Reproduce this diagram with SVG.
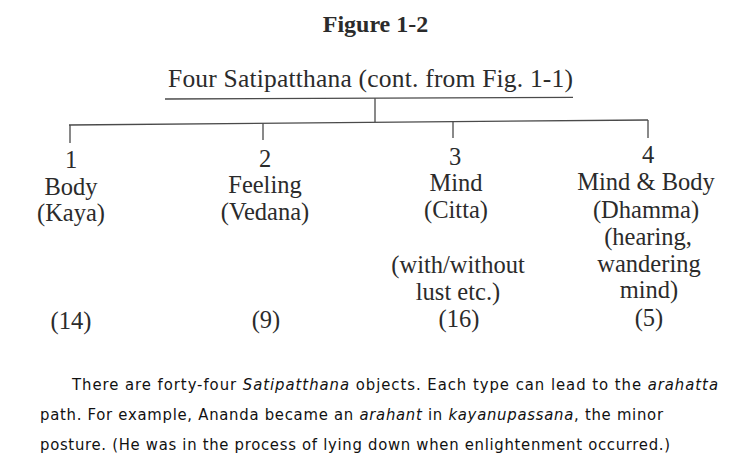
<svg xmlns="http://www.w3.org/2000/svg" width="734" height="473" viewBox="0 0 734 473">
<style>
.bg{fill:#ffffff}
.serif{font-family:"Liberation Serif","Times New Roman",serif;fill:#2b2b2b}
.title{font-size:24px;font-weight:bold;text-anchor:middle}
.head{font-size:25.5px}
.lbl{font-size:24.5px;text-anchor:middle}
.conn line{stroke:#4a4a4a;stroke-width:1.3;fill:none}
.para{font-family:"DejaVu Sans Condensed","DejaVu Sans",Tahoma,sans-serif;font-size:16.5px;fill:#111}
.it{font-style:italic}
</style>
<rect class="bg" x="0" y="0" width="734" height="473"/>
<g id="title">
<text class="serif title" x="375.5" y="32">Figure 1-2</text>
</g>
<g id="root">
<text class="serif head" x="168" y="87" textLength="405" lengthAdjust="spacing">Four Satipatthana (cont. from Fig. 1-1)</text>
</g>
<g id="connectors" class="conn">
<line x1="165" y1="99" x2="573" y2="97.3"/>
<line x1="375" y1="98.2" x2="375" y2="122"/>
<line x1="69" y1="125" x2="648" y2="120"/>
<line x1="70" y1="125" x2="70" y2="143"/>
<line x1="263" y1="123.3" x2="263" y2="140"/>
<line x1="453" y1="121.7" x2="453" y2="138"/>
<line x1="648" y1="120" x2="648" y2="138"/>
</g>
<g id="node-1">
<text class="serif lbl" x="71" y="168">1</text>
<text class="serif lbl" x="71" y="194.5">Body</text>
<text class="serif lbl" x="71" y="221">(Kaya)</text>
<text class="serif lbl" x="71" y="329">(14)</text>
</g>
<g id="node-2">
<text class="serif lbl" x="265" y="166.5">2</text>
<text class="serif lbl" x="265" y="193">Feeling</text>
<text class="serif lbl" x="265" y="219.5">(Vedana)</text>
<text class="serif lbl" x="266" y="328">(9)</text>
</g>
<g id="node-3">
<text class="serif lbl" x="455" y="165">3</text>
<text class="serif lbl" x="456" y="191">Mind</text>
<text class="serif lbl" x="456" y="218">(Citta)</text>
<text class="serif lbl" x="458" y="273">(with/without</text>
<text class="serif lbl" x="458" y="299.5">lust etc.)</text>
<text class="serif lbl" x="459" y="327">(16)</text>
</g>
<g id="node-4">
<text class="serif lbl" x="648" y="163">4</text>
<text class="serif lbl" x="646" y="190">Mind &amp; Body</text>
<text class="serif lbl" x="646" y="217.5">(Dhamma)</text>
<text class="serif lbl" x="648" y="245">(hearing,</text>
<text class="serif lbl" x="649" y="271.5">wandering</text>
<text class="serif lbl" x="649" y="298">mind)</text>
<text class="serif lbl" x="649" y="325.5">(5)</text>
</g>
<g id="paragraph" class="para">
<text x="72" y="390" textLength="646" lengthAdjust="spacing">There are forty-four <tspan class="it">Satipatthana</tspan> objects. Each type can lead to the <tspan class="it">arahatta</tspan></text>
<text x="40" y="420" textLength="623" lengthAdjust="spacing">path. For example, Ananda became an <tspan class="it">arahant</tspan> in <tspan class="it">kayanupassana</tspan>, the minor</text>
<text x="40" y="450" textLength="630" lengthAdjust="spacing">posture. (He was in the process of lying down when enlightenment occurred.)</text>
</g>
</svg>
